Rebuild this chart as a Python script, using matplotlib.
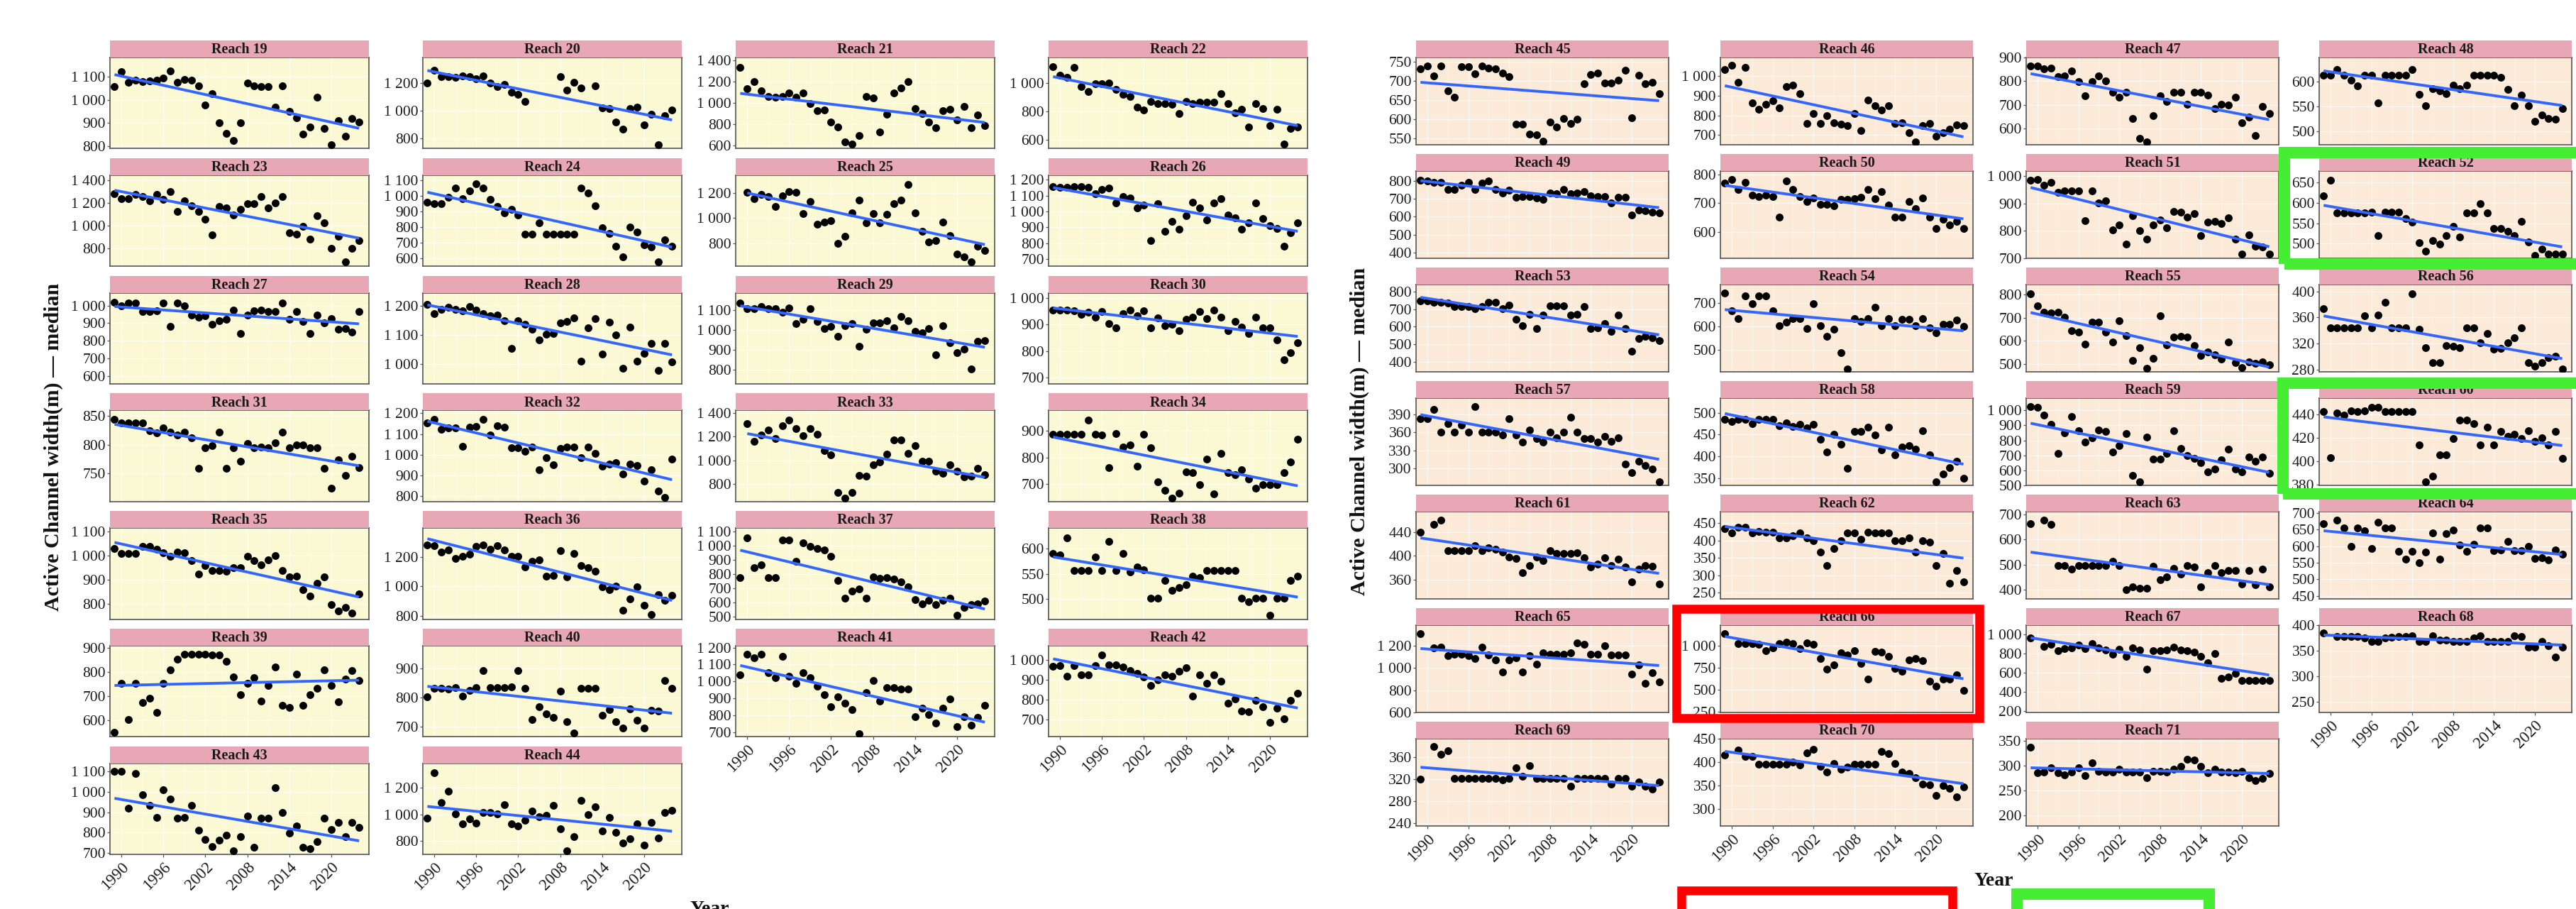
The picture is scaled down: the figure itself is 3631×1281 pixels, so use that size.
import numpy as np
import matplotlib
matplotlib.use("Agg")
import matplotlib.pyplot as plt
from matplotlib.patches import Rectangle

nan = np.nan
years = np.arange(1989, 2025)
x_ticks = [1990, 1996, 2002, 2008, 2014, 2020]

# ---- data: median active channel width (m) per reach, 1989-2024 ----
r19 = [1057,1122,1077,1085,1080,1083,1085,1095,1125,1075,1090,1085,1062,977,1027,900,854,824,903,1072,1061,1057,1057,970,1061,952,923,853,883,1013,878,806,911,844,919,905]
r20 = [1200,1288,1242,1242,1237,1247,1242,1230,1247,1197,1175,1188,1132,1115,1068,nan,nan,nan,nan,1242,1146,1205,1163,nan,1180,1022,1017,920,866,1014,1027,898,975,756,963,1005]
r21 = [1334,1136,1202,1114,1063,1054,1059,1092,1054,1092,997,926,937,821,777,633,614,695,1063,1048,728,893,1092,1142,1202,948,904,821,768,931,944,843,970,768,887,790]
r22 = [1117,1057,1040,1112,978,940,995,995,1003,957,923,907,828,812,870,857,853,850,787,870,857,867,867,867,928,857,790,817,687,857,820,698,817,567,678,690]
r23 = [1283,1236,1236,1274,1253,1216,1278,1230,1299,1121,1216,1174,1125,1052,918,1169,1153,1094,1142,1190,1190,1253,1157,1199,1253,937,922,989,876,1086,1023,796,901,675,800,865]
r24 = [958,948,948,993,1050,984,1034,1080,1050,978,932,890,913,877,755,752,826,755,755,755,755,755,1050,1019,938,795,760,676,608,798,768,687,669,573,719,676]
r25 = [nan,1206,1153,1187,1172,1093,1176,1209,1206,1037,1134,950,969,980,800,856,1044,1144,965,1037,962,1031,1112,1144,1269,1040,894,811,819,969,862,712,693,650,777,744]
r26 = [1158,1155,1152,1158,1158,1152,1113,1140,1148,1054,1093,1084,1021,1043,819,1051,875,939,887,973,1058,1021,946,1054,1081,979,961,890,928,1054,954,913,894,779,864,928]
r27 = [1020,1000,1016,1013,967,967,971,1013,883,1016,1000,947,933,940,893,913,923,973,843,944,971,976,967,967,1013,923,967,909,840,944,900,927,867,869,851,967]
r28 = [1206,1173,1187,1195,1187,1184,1198,1185,1173,1165,1169,1149,1054,1149,1137,1119,1084,1102,1106,1141,1146,1159,1011,1124,1157,1033,1145,1100,986,1128,1011,1037,1072,978,1072,1008]
r29 = [1133,1104,1104,1115,1107,1104,1088,1109,1029,1053,1104,1041,1006,1015,968,1021,1029,918,1003,1033,1036,1045,1009,1065,1045,991,985,1006,873,1021,935,885,903,805,942,944]
r30 = [954,954,954,952,938,946,927,949,904,887,940,954,934,952,887,925,896,902,878,920,929,949,922,955,927,878,913,889,866,927,887,887,842,768,793,830]
r31 = [844,838,838,838,838,824,821,829,822,817,822,812,759,795,799,822,759,795,771,802,795,796,795,803,822,795,800,800,795,795,759,724,774,747,780,760]
r32 = [1153,1171,1122,1128,1128,1041,1133,1137,1171,1095,1139,1133,1033,1033,1018,1036,926,987,953,1030,1036,1036,987,1036,1007,946,955,961,907,955,949,872,926,823,794,978]
r33 = [nan,1306,1160,1214,1254,1186,1294,1340,1270,1206,1270,1220,1080,1046,730,680,730,874,866,960,986,1050,1170,1170,1060,1126,990,990,910,890,960,906,860,866,934,880]
r34 = [887,887,887,887,887,940,887,884,762,889,840,848,768,887,836,709,676,647,667,747,744,697,793,664,816,744,736,753,718,685,697,697,697,742,784,869]
r35 = [1028,1009,1009,1009,1036,1036,1024,1012,997,1014,1012,979,923,957,938,938,933,950,948,997,977,962,982,1000,938,910,913,857,831,884,910,795,771,785,760,839]
r36 = [1281,1278,1234,1245,1189,1202,1218,1273,1283,1253,1278,1245,1205,1202,1132,1169,1181,1067,1075,1241,1062,1221,1143,1124,1100,997,978,1002,835,913,994,871,808,942,905,937]
r37 = [772,1055,845,862,772,772,1038,1038,888,1017,995,978,967,925,755,628,678,695,628,778,767,775,762,745,712,622,592,617,583,617,628,512,567,583,592,612]
r38 = [590,587,622,556,556,556,584,556,614,556,591,554,564,558,502,502,537,517,523,529,545,543,556,556,556,556,556,501,495,502,502,468,501,501,537,545]
r39 = [549,751,601,751,674,690,631,751,808,851,873,873,873,873,870,870,844,778,706,753,775,680,743,819,662,652,790,662,706,733,808,743,677,770,805,765]
r40 = [802,832,832,829,835,806,824,835,892,835,835,835,837,892,831,724,767,745,731,821,716,677,832,832,832,739,759,716,696,761,723,696,756,753,859,832]
r41 = [1040,1160,1140,1160,1050,1020,1150,1030,990,1050,1020,970,920,850,910,870,835,690,935,1005,885,965,965,955,955,790,840,805,755,840,895,730,790,740,785,860]
r42 = [967,970,919,970,923,923,970,1026,974,974,964,946,931,914,871,899,926,919,943,962,819,923,881,923,893,783,804,744,738,795,764,685,756,702,795,831]
r43 = [1100,1100,920,1090,985,935,875,1010,965,870,875,935,810,765,730,760,785,710,780,880,725,870,870,1020,900,795,830,725,720,755,870,815,850,780,850,825]
r44 = [971,1316,1092,1173,1006,931,967,935,1012,1012,1006,1071,931,913,958,1024,985,994,1066,892,725,833,1107,1000,1057,877,976,863,784,815,931,770,940,824,1017,1030]
r45 = [731,740,713,739,674,657,738,738,719,740,733,731,721,711,587,587,562,560,543,593,580,602,589,601,692,717,721,695,695,703,728,603,715,692,697,666]
r46 = [1033,1057,969,1045,863,831,855,875,839,948,954,912,760,809,760,797,763,755,746,811,724,879,851,827,848,758,763,712,666,748,760,694,712,730,751,746]
r47 = [864,864,852,854,817,820,842,797,737,797,822,800,754,731,754,641,558,545,655,737,715,754,754,703,754,754,740,685,703,698,731,623,648,571,693,663]
r48 = [613,613,624,613,603,592,613,613,557,613,613,613,613,624,574,552,586,581,576,593,586,593,613,613,613,613,608,584,552,573,552,520,533,526,524,546]
r49 = [803,800,792,790,750,750,774,790,750,787,800,750,731,748,708,711,711,705,695,731,727,750,727,731,740,718,714,711,678,708,708,609,639,633,626,622]
r50 = [770,781,747,771,729,724,727,724,651,778,747,724,706,718,696,696,691,713,714,716,721,747,716,740,694,653,653,706,682,718,651,612,645,626,637,612]
r51 = [985,986,966,976,942,946,946,946,838,946,903,909,805,821,752,856,801,769,821,841,812,872,869,850,863,784,831,835,826,848,771,715,786,745,741,715]
r52 = [616,655,575,575,575,575,575,577,520,577,577,577,562,553,503,482,507,499,520,543,517,575,575,598,575,537,537,531,520,554,504,472,487,474,474,474]
r53 = [747,747,740,740,736,713,713,713,704,713,740,740,704,723,640,603,668,587,666,720,720,720,666,668,713,587,593,616,574,666,587,460,532,545,537,518]
r54 = [742,665,633,730,695,730,730,666,603,616,633,633,590,696,603,558,586,488,420,633,620,633,680,603,633,603,630,630,603,633,593,573,608,608,626,600]
r55 = [805,753,724,720,724,704,643,639,585,680,682,639,595,687,622,516,571,480,523,710,582,615,618,615,580,537,551,539,520,595,506,483,508,503,510,496]
r56 = [373,344,344,344,344,344,363,344,364,383,344,344,344,396,342,313,290,290,317,316,313,344,344,321,335,311,312,321,329,344,290,285,290,298,300,281]
r57 = [383,383,399,361,375,361,373,361,403,361,361,361,356,383,356,344,364,350,344,361,351,361,386,361,350,350,344,353,345,351,307,293,312,305,299,277]
r58 = [485,480,485,485,475,485,485,484,470,477,468,473,465,473,439,410,451,428,373,457,457,466,449,414,466,404,421,424,416,458,404,342,359,374,388,350]
r59 = [1024,1021,968,905,711,850,957,866,790,815,869,858,724,763,847,566,522,822,673,676,711,866,748,696,680,653,590,606,669,743,610,590,689,658,689,579]
r60 = [442,403,441,439,443,442,443,446,446,442,442,442,442,442,414,382,387,405,405,419,435,435,432,414,429,414,425,421,423,419,426,417,420,414,425,402]
r61 = [440,nan,453,460,409,409,409,409,417,409,413,411,406,398,396,372,384,398,392,409,404,404,404,405,397,381,386,397,384,394,381,356,377,383,382,352]
r62 = [434,421,439,438,421,427,424,423,407,407,414,421,407,400,366,328,377,400,421,421,403,425,421,421,421,400,400,407,366,400,395,327,362,277,313,280]
r63 = [663,nan,677,660,497,497,484,497,497,497,497,497,515,497,400,412,407,407,494,440,451,487,463,498,491,412,469,497,469,478,478,423,478,422,482,412]
r64 = [667,nan,677,654,600,654,645,592,672,654,654,585,560,585,551,583,640,560,638,647,603,585,606,654,654,586,588,613,586,586,600,562,565,558,588,576]
r65 = [1305,nan,1179,1189,1112,1120,1120,1112,1084,1183,1116,1074,964,1069,1091,964,1112,1032,1137,1120,1120,1120,1137,1225,1211,1120,1120,1196,1116,1116,1116,943,1027,863,958,874]
r66 = [1140,nan,1022,1022,1022,1013,946,978,1027,1040,1022,968,1032,1013,852,731,780,919,898,946,798,618,933,925,879,737,710,839,852,833,597,538,618,618,664,489]
r67 = [960,nan,876,894,832,851,861,886,851,906,861,837,795,844,770,861,837,634,832,832,837,869,837,832,812,770,703,802,540,554,589,515,515,515,515,515]
r68 = [385,nan,378,378,378,378,375,369,369,375,377,378,378,380,369,369,380,371,371,368,368,368,375,380,369,369,369,369,379,378,358,358,369,360,338,357]
r69 = [320,nan,379,365,372,321,321,321,321,321,321,321,318,321,341,325,344,321,321,321,321,321,307,321,321,321,321,321,311,321,321,307,314,307,302,315]
r70 = [415,nan,425,411,411,395,395,395,395,395,399,394,420,427,391,379,396,384,389,395,395,395,395,422,418,396,378,376,367,352,351,328,349,344,325,347]
r71 = [336,285,287,296,285,281,287,295,280,305,288,287,287,292,287,287,287,276,289,289,287,292,299,313,311,298,285,292,287,287,285,288,276,270,274,284]

left_reaches = list(range(19, 45))
right_reaches = list(range(45, 72))

y_ticks = {
    19: [800, 900, 1000, 1100], 20: [800, 1000, 1200], 21: [600, 800, 1000, 1200, 1400],
    22: [600, 800, 1000], 23: [800, 1000, 1200, 1400], 24: [600, 700, 800, 900, 1000, 1100],
    25: [800, 1000, 1200], 26: [700, 800, 900, 1000, 1100, 1200], 27: [600, 700, 800, 900, 1000],
    28: [1000, 1100, 1200], 29: [800, 900, 1000, 1100], 30: [700, 800, 900, 1000],
    31: [750, 800, 850], 32: [800, 900, 1000, 1100, 1200], 33: [800, 1000, 1200, 1400],
    34: [700, 800, 900], 35: [800, 900, 1000, 1100], 36: [800, 1000, 1200],
    37: [500, 600, 700, 800, 900, 1000, 1100], 38: [500, 550, 600], 39: [600, 700, 800, 900],
    40: [700, 800, 900], 41: [700, 800, 900, 1000, 1100, 1200], 42: [700, 800, 900, 1000],
    43: [700, 800, 900, 1000, 1100], 44: [800, 1000, 1200],
    45: [550, 600, 650, 700, 750], 46: [700, 800, 900, 1000], 47: [600, 700, 800, 900],
    48: [500, 550, 600], 49: [400, 500, 600, 700, 800], 50: [600, 700, 800],
    51: [700, 800, 900, 1000], 52: [500, 550, 600, 650], 53: [400, 500, 600, 700, 800],
    54: [500, 600, 700], 55: [500, 600, 700, 800], 56: [280, 320, 360, 400],
    57: [300, 330, 360, 390], 58: [350, 400, 450, 500], 59: [500, 600, 700, 800, 900, 1000],
    60: [380, 400, 420, 440], 61: [360, 400, 440], 62: [250, 300, 350, 400, 450],
    63: [400, 500, 600, 700], 64: [450, 500, 550, 600, 650, 700], 65: [600, 800, 1000, 1200],
    66: [250, 500, 750, 1000], 67: [200, 400, 600, 800, 1000], 68: [250, 300, 350, 400],
    69: [240, 280, 320, 360], 70: [300, 350, 400, 450], 71: [200, 250, 300, 350],
}
y_limits = {
    19: (790, 1184), 20: (729, 1381), 21: (574, 1426), 22: (537, 1182), 23: (639, 1446),
    24: (547, 1134), 25: (618, 1341), 26: (655, 1230), 27: (557, 1072), 28: (932, 1245),
    29: (729, 1185), 30: (676, 1020), 31: (701, 860), 32: (774, 1214), 33: (654, 1420),
    34: (635, 976), 35: (736, 1113), 36: (776, 1396), 37: (483, 1122), 38: (460, 641),
    39: (531, 908), 40: (665, 978), 41: (672, 1211), 42: (613, 1071), 43: (691, 1141),
    44: (698, 1385), 45: (533, 762), 46: (649, 1097), 47: (531, 900), 48: (473, 649),
    49: (369, 855), 50: (509, 812), 51: (701, 1019), 52: (464, 678), 53: (341, 841),
    54: (406, 778), 55: (465, 845), 56: (276, 411), 57: (271, 418), 58: (333, 534),
    59: (498, 1084), 60: (379, 454), 61: (327, 475), 62: (231, 484), 63: (364, 712),
    64: (441, 704), 65: (604, 1385), 66: (237, 1237), 67: (180, 1099), 68: (229, 401),
    69: (234, 394), 70: (263, 450), 71: (179, 354),
}
series = {k: globals()["r%d" % k] for k in range(19, 72)}

# ---- figure ----
W, H, DPI = 3631, 1281, 100
plt.rcParams["font.family"] = ["Liberation Serif", "DejaVu Serif"]
fig = plt.figure(figsize=(W / DPI, H / DPI), dpi=DPI)
fig.patch.set_facecolor("white")


def px_axes(x, y, w, h):
    return fig.add_axes([x / W, 1 - (y + h) / H, w / W, h / H])


def fmt(v):
    return f"{int(v):,}".replace(",", " ")


STRIP = "#E8A7B4"
LINE = "#3366FF"


def draw_grid(ids, col_x, pw, top0, pitch, ph, sh, bg):
    n = len(ids)
    for i, rid in enumerate(ids):
        r, c = divmod(i, 4)
        x = col_x[c]
        y = top0 + pitch * r
        ax = px_axes(x, y, pw, ph)
        ax.set_facecolor(bg)
        vals = np.array(series[rid], dtype=float)
        m = ~np.isnan(vals)
        ax.scatter(years[m], vals[m], s=62, color="black", linewidths=0, zorder=3)
        k, b = np.polyfit(years[m], vals[m], 1)
        xx = np.array([years[m].min(), years[m].max()], dtype=float)
        ax.plot(xx, k * xx + b, color=LINE, lw=2.8, zorder=4, solid_capstyle="butt")
        ax.set_xlim(1988.35, 2025.4)
        ax.set_ylim(*y_limits[rid])
        ax.set_yticks(y_ticks[rid])
        ax.set_yticklabels([fmt(v) for v in y_ticks[rid]])
        ax.set_xticks(x_ticks)
        ax.set_xticks([t + 3 for t in x_ticks[:-1]], minor=True)
        ax.grid(True, which="major", color="white", lw=1.0, alpha=0.7, zorder=0)
        ax.grid(True, which="minor", axis="x", color="white", lw=0.6, alpha=0.5, zorder=0)
        ax.set_axisbelow(True)
        ax.tick_params(axis="y", which="major", labelsize=15.5, length=3, width=0.9,
                       color="#555555", pad=1.5, labelcolor="#1a1a1a")
        ax.tick_params(axis="x", which="minor", length=0)
        for sp in ax.spines.values():
            sp.set_color("#555555")
            sp.set_linewidth(1.2)
        if i + 4 >= n:
            ax.set_xticklabels([str(t) for t in x_ticks], rotation=45, ha="right",
                               va="top", rotation_mode="anchor")
            ax.tick_params(axis="x", which="major", labelsize=16.5, length=3, width=0.9,
                           color="#555555", pad=2, labelcolor="#1a1a1a")
        else:
            ax.tick_params(axis="x", which="major", length=0, labelbottom=False)
        sax = px_axes(x, y - sh, pw, sh)
        sax.set_facecolor(STRIP)
        sax.set_xticks([])
        sax.set_yticks([])
        for sp in sax.spines.values():
            sp.set_visible(False)
        sax.text(0.5, 0.45, f"Reach {rid}", ha="center", va="center", fontsize=14.5,
                 fontweight="bold", color="#1a1a1a", transform=sax.transAxes)


draw_grid(left_reaches, [155, 596, 1037, 1478], 365, 81, 165.8, 128.3, 24, "#FAF9D3")
draw_grid(right_reaches, [1996, 2425, 2856, 3269], 356, 80.7, 160.0, 123.5, 23.5, "#FAEAD7")

ylab = "Active Channel width(m) \u2014 median"
fig.text(75 / W, 1 - 630 / H, ylab, rotation=90, ha="center", va="center",
         fontsize=21.5, fontweight="bold", color="#111111")
fig.text(1916 / W, 1 - 608 / H, ylab, rotation=90, ha="center", va="center",
         fontsize=21.5, fontweight="bold", color="#111111")
fig.text(1000 / W, 1 - 1288 / H, "Year", ha="center", va="baseline",
         fontsize=20, fontweight="bold", color="#111111")
fig.text(2810 / W, 1 - 1248 / H, "Year", ha="center", va="baseline",
         fontsize=20, fontweight="bold", color="#111111")


def box(x0, y0, x1, y1, color, lw_px):
    r = Rectangle((x0 / W, 1 - y1 / H), (x1 - x0) / W, (y1 - y0) / H,
                  transform=fig.transFigure, fill=False, edgecolor=color,
                  linewidth=lw_px * 72 / DPI, zorder=10)
    fig.add_artist(r)


RED = "#FF0000"
GREEN = "#45EE33"
box(2363, 858, 2790, 1012, RED, 12.5)
box(2370, 1255, 2752, 1320, RED, 12.5)
box(3220, 215, 3660, 372, GREEN, 16)
box(3218, 540, 3660, 696, GREEN, 16)
box(2843, 1260, 3114, 1320, GREEN, 16)

fig.savefig("out.png", dpi=DPI)
